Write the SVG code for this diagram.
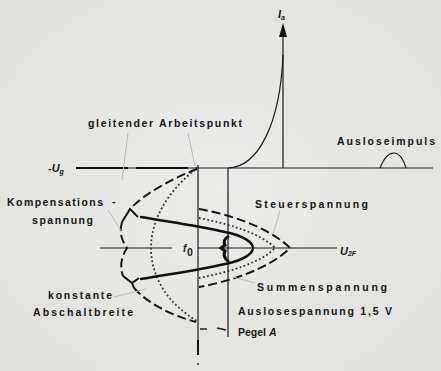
<svg xmlns="http://www.w3.org/2000/svg" width="441" height="371" viewBox="0 0 441 371">
<defs>
<style>
.t{font-family:"Liberation Sans",Arial,sans-serif;font-size:10.5px;font-weight:bold;fill:#161616}
.i{font-family:"Liberation Sans",Arial,sans-serif;font-style:italic;font-weight:bold;fill:#161616}
.ax{stroke:#1a1a1a;stroke-width:1.2;fill:none}
.sol{stroke:#111;stroke-width:2.4;fill:none;stroke-linecap:round}
.dash{stroke:#161616;stroke-width:2;fill:none;stroke-dasharray:9 4}
.dot{stroke:#333;stroke-width:1.8;fill:none;stroke-dasharray:1.8 2.4}
.lead{stroke:#b9b9b6;stroke-width:1;fill:none}
</style>
<radialGradient id="bg" cx="0.5" cy="0.5" r="0.7">
<stop offset="0" stop-color="#ececea"/>
<stop offset="1" stop-color="#e0e0dc"/>
</radialGradient>
</defs>
<rect width="441" height="371" fill="url(#bg)"/>

<g id="axes">
<line class="ax" x1="76" y1="168" x2="433" y2="168"/>
<line x1="76" y1="168" x2="197" y2="168" stroke="#111" stroke-width="2.2" stroke-dasharray="52 8"/>
<line class="ax" x1="283" y1="36" x2="283" y2="168"/>
<polygon points="283,23 279,37 287,37" fill="#111"/>
<line class="ax" x1="198" y1="165" x2="198" y2="355"/>
<line x1="198" y1="340" x2="198" y2="355" stroke="#111" stroke-width="2"/>
<circle cx="198" cy="364" r="1" fill="#333"/>
<line class="ax" x1="228" y1="168" x2="228" y2="337"/>
<line class="ax" x1="100" y1="248" x2="172" y2="248"/>
<line class="ax" x1="198" y1="248" x2="337" y2="248"/>
</g>

<g id="kennlinie">
<path class="ax" d="M228,168 C258,167 280,125 283,55" stroke-width="1.5"/>
</g>

<g id="ausloseimpuls">
<path class="ax" d="M380,168 C388,148 400,148 406,168" stroke-width="1.5"/>
<text class="t" x="337" y="145" textLength="98" lengthAdjust="spacing">Ausloseimpuls</text>
</g>

<g id="kompensation">
<path class="dash" d="M197,169 C178,176 146,192 130,209"/>
<path class="dash" d="M122,222 Q118,236 127,248 Q118,262 123,276" stroke-dasharray="7 5"/>
<path class="dash" d="M134,288 C146,302 170,315 196,322"/>
<path d="M122,222 L130,209 L138,217 M123,276 L132,283 L139,278 M132,283 L134,288" stroke="#111" stroke-width="2" fill="none"/>
<path class="dot" d="M195,170 C175,185 150,215 151,250 C152,280 170,305 197,321"/>
</g>

<g id="summenspannung">
<path class="sol" d="M141,217 C170,222 200,226 225,232 C245,236 253,243 253,248 C253,253 245,260 225,264 C200,270 170,274 141,279"/>
<path d="M229,236 Q222,240 225,245 L221,248 L225,251 Q222,257 229,262" stroke="#111" stroke-width="3" fill="none"/>
</g>

<g id="steuerspannung">
<path class="dash" d="M199,209 C232,215 270,228 290,248 C270,268 232,281 199,287"/>
<path class="dot" d="M199,218 C230,224 262,234 275,248 C262,262 230,272 199,278"/>
</g>

<g id="pegel">
<path d="M200,329 L207,329 M217,328 L226,330" stroke="#222" stroke-width="1.6" fill="none"/>
</g>

<g id="leaders">
<path class="lead" d="M128,133 L122,180 M188,133 L195,166 M108,210 L122,232 M114,297 L146,289 M280,211 L273,234 M255,283 L233,277"/>
</g>

<g id="labels">
<text class="i" x="278" y="18" font-size="11">I<tspan font-size="7" dy="2">a</tspan></text>
<text class="i" x="48" y="172" font-size="11">-U<tspan font-size="7" dy="2">g</tspan></text>
<text class="i" x="183" y="252" font-size="10">f</text>
<text class="t" x="187" y="256" font-size="8">0</text>
<text class="i" x="340" y="255" font-size="11">U<tspan font-size="7" dy="1">2F</tspan></text>
<text class="t" x="88" y="127" textLength="154" lengthAdjust="spacing">gleitender Arbeitspunkt</text>
<text class="t" x="7" y="206" textLength="96" lengthAdjust="spacing">Kompensations</text>
<text class="t" x="112" y="205">-</text>
<text class="t" x="32" y="224" textLength="61" lengthAdjust="spacing">spannung</text>
<text class="t" x="255" y="208" textLength="113" lengthAdjust="spacing">Steuerspannung</text>
<text class="t" x="257" y="291" textLength="130" lengthAdjust="spacing">Summenspannung</text>
<text class="t" x="238" y="315" textLength="154" lengthAdjust="spacing">Auslosespannung 1,5 V</text>
<text class="t" x="238" y="336">Pegel <tspan font-style="italic">A</tspan></text>
<text class="t" x="48" y="299" textLength="64" lengthAdjust="spacing">konstante</text>
<text class="t" x="33" y="316" textLength="100" lengthAdjust="spacing">Abschaltbreite</text>
</g>
</svg>
